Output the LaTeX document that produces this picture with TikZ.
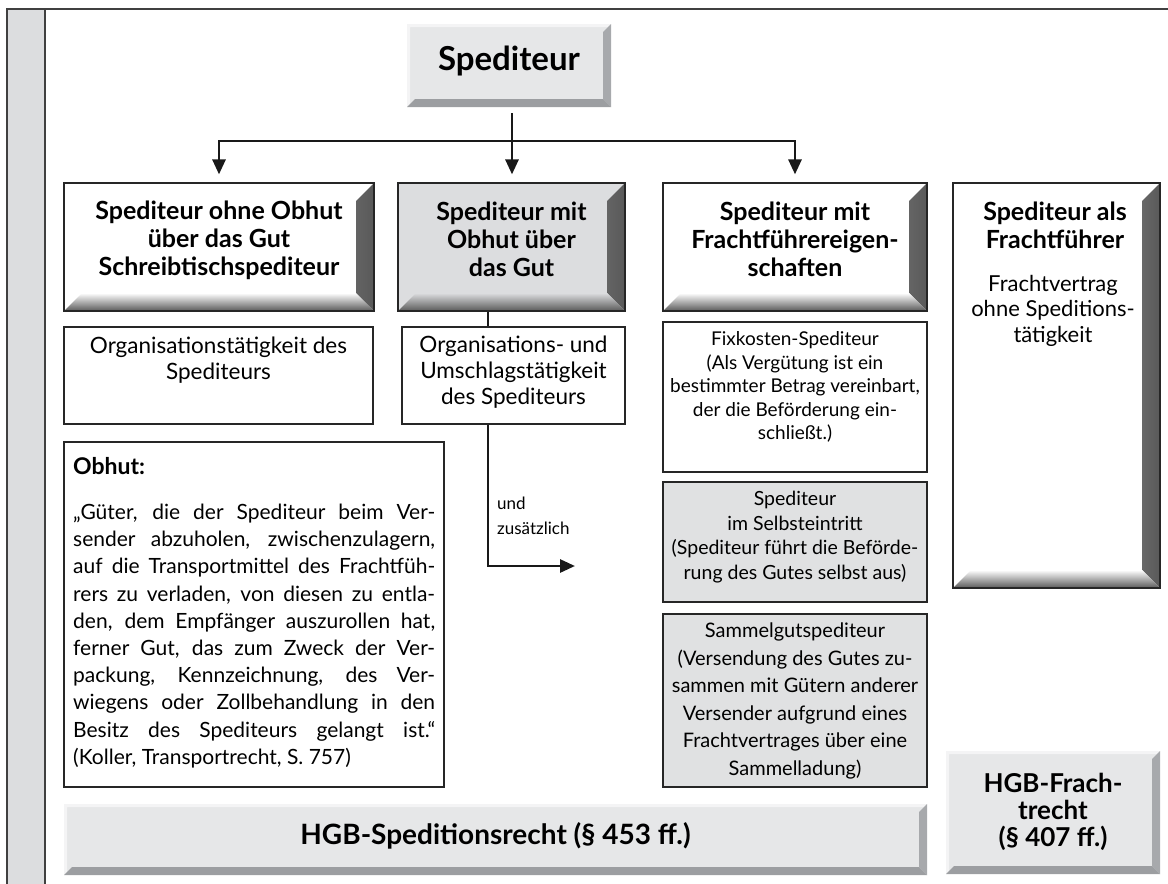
\documentclass[tikz,border=0pt]{standalone}
\usepackage{fontspec}
\setmainfont{Lato}
\usetikzlibrary{arrows.meta}
\definecolor{facegray}{HTML}{E6E7E8}
\definecolor{boxgray}{HTML}{DCDDDF}
\definecolor{notegray}{HTML}{E0E1E2}
\definecolor{bargray}{HTML}{DCDDDF}
\definecolor{bevright}{HTML}{A7A9AC}
\definecolor{bevbottom}{HTML}{9C9EA1}
\newcommand\fTitle{\fontsize{33}{36}\selectfont\bfseries}
\newcommand\fHead{\fontsize{25}{28}\selectfont\bfseries}
\newcommand\fBody{\fontsize{22.5}{26}\selectfont}
\newcommand\fQuote{\fontsize{21}{27.2}\selectfont}
\newcommand\fSmall{\fontsize{19}{23.5}\selectfont}
\newcommand\fNote{\fontsize{17}{25}\selectfont}
\hyphenpenalty=10000
\tikzset{
  raised/.style={draw=black!85, line width=1.2pt, fill=#1, inner sep=0pt,
    path picture={
      \shade[left color=#1, right color=black!65]
        (path picture bounding box.north east)
        -- ([xshift=-18pt,yshift=-18pt]path picture bounding box.north east)
        -- ([xshift=-18pt,yshift=18pt]path picture bounding box.south east)
        -- (path picture bounding box.south east) -- cycle;
      \shade[top color=#1, bottom color=black!65]
        (path picture bounding box.south west)
        -- ([xshift=18pt,yshift=18pt]path picture bounding box.south west)
        -- ([xshift=-18pt,yshift=18pt]path picture bounding box.south east)
        -- (path picture bounding box.south east) -- cycle;
    }},
  raised/.default=white,
  bevel/.style={fill=facegray, inner sep=0pt,
    path picture={
      \fill[white!55!facegray] (path picture bounding box.north west)
        -- (path picture bounding box.north east)
        -- ([xshift=-3pt,yshift=-3pt]path picture bounding box.north east)
        -- ([xshift=3pt,yshift=-3pt]path picture bounding box.north west)
        -- ([xshift=3pt,yshift=3pt]path picture bounding box.south west)
        -- (path picture bounding box.south west) -- cycle;
      \fill[bevright] (path picture bounding box.north east)
        -- ([xshift=-8pt,yshift=-8pt]path picture bounding box.north east)
        -- ([xshift=-8pt,yshift=8pt]path picture bounding box.south east)
        -- (path picture bounding box.south east) -- cycle;
      \fill[bevbottom] (path picture bounding box.south west)
        -- ([xshift=8pt,yshift=8pt]path picture bounding box.south west)
        -- ([xshift=-8pt,yshift=8pt]path picture bounding box.south east)
        -- (path picture bounding box.south east) -- cycle;
    }},
  flat/.style={draw=black!85, line width=1.2pt, fill=#1, inner sep=0pt},
  flat/.default=white,
  head/.style={font=\fHead, align=center, inner sep=0pt},
  body/.style={font=\fBody, align=center, inner sep=0pt},
  link/.style={line width=2.8pt, black!90},
  arr/.style={link, -{Triangle[length=15pt,width=13pt]}}
}

\begin{document}
\begin{tikzpicture}[x=1pt, y=-1pt]
  \useasboundingbox (0,0) rectangle (1168,884);
  % page frame with grey margin bar
  \fill[bargray] (7,9) rectangle (45,884);
  \draw[line width=1.5pt, black!75] (7,884) -- (7,9) -- (1168,9);
  \draw[line width=1.5pt, black!75] (45,9) -- (45,884);

  % top node
  \node[bevel, minimum width=204pt, minimum height=83pt] (sped) at (509,65.5) {};
  \node[font=\fTitle, inner sep=0pt] (spedT) at ([yshift=4pt]sped.center) {Spediteur};

  % first row
  \node[raised, minimum width=310pt, minimum height=128pt] (ohne) at (219,247) {};
  \node[head] (ohneT) at ([yshift=7pt]ohne.center) {Spediteur ohne Obhut\\über das Gut\\Schreibtischspediteur};
  \node[raised=boxgray, minimum width=227pt, minimum height=128pt] (mit) at (511.5,247) {};
  \node[head] (mitT) at ([yshift=8pt]mit.center) {Spediteur mit\\Obhut über\\das Gut};
  \node[raised, minimum width=264pt, minimum height=128pt] (fracht) at (795,247) {};
  \node[head] (frachtT) at ([yshift=8pt]fracht.center) {Spediteur mit\\Frachtführereigen-\\schaften};
  \node[raised, minimum width=207pt, minimum height=405pt] (als) at (1056.5,385.5) {};
  \node[head, anchor=north] (alsT) at (1055,202) {Spediteur als\\Frachtführer};
  \node[body, font=\fontsize{22}{25.5}\selectfont, anchor=north] (alsB) at (1053,275) {Frachtvertrag\\ohne Speditions-\\tätigkeit};

  % arrows from the top node
  \coordinate (fork) at (512,141);
  \draw[link, shorten <=6pt] (sped.south -| fork) -- (fork);
  \draw[arr, shorten >=8pt] (fork) -| (ohne.north);
  \draw[arr, shorten >=8pt] (fork) -- (fork |- mit.north);
  \draw[arr, shorten >=8pt] (fork) -| (fracht.north);

  % second row
  \node[flat, minimum width=309pt, minimum height=97pt] (orgE) at (218.5,375.5) {};
  \node[body, anchor=north] (orgET) at (218.5,337) {Organisationstätigkeit des\\Spediteurs};
  \node[flat, minimum width=223pt, minimum height=97pt] (orgF) at (513.5,375.5) {};
  \node[body] (orgFT) at ([yshift=3pt]orgF.center) {Organisations- und\\Umschlagstätigkeit\\des Spediteurs};
  \node[flat, minimum width=264pt, minimum height=150pt] (fix) at (795,397) {};
  \node[font=\fSmall, align=center, inner sep=0pt] (fixT) at (795,387) {Fixkosten-Spediteur\\(Als Vergütung ist ein\\bestimmter Betrag vereinbart,\\der die Beförderung ein-\\schließt.)};

  % "und zusaetzlich"
  \coordinate (zus) at (488,566);
  \coordinate (zusEnd) at (575,566);
  \draw[link] (mit.south -| zus) -- (orgF.north -| zus);
  \draw[arr] (orgF.south -| zus) -- (zus) -- (zusEnd);
  \node[font=\fNote, align=left, anchor=north west, inner sep=0pt] (zusT) at (497,497) {und\\zusätzlich};

  % grey boxes below
  \node[flat=notegray, minimum width=264pt, minimum height=120pt] (selbst) at (795,542) {};
  \node[font=\fontsize{19.5}{24.5}\selectfont, align=center, inner sep=0pt] (selbstT) at (795,537) {Spediteur\\im Selbsteintritt\\(Spediteur führt die Beförde-\\rung des Gutes selbst aus)};
  \node[flat=notegray, minimum width=264pt, minimum height=173pt] (sammel) at (795,700.5) {};
  \node[font=\fontsize{20}{27.5}\selectfont, align=center, inner sep=0pt] (sammelT) at (795,701) {Sammelgutspediteur\\(Versendung des Gutes zu-\\sammen mit Gütern anderer\\Versender aufgrund eines\\Frachtvertrages über eine\\Sammelladung)};

  % Obhut
  \node[flat, minimum width=380pt, minimum height=345pt] (obhut) at (254,614.5) {};
  \node[inner sep=0pt, text width=362pt, align=justify, anchor=north west] (obhutT) at (73,457) {%
    {\fontsize{23}{28}\selectfont\bfseries Obhut:\par}\vspace{18pt}\fQuote
    „Güter, die der Spediteur beim Ver-\linebreak
    sender abzuholen, zwischenzulagern,\linebreak
    auf die Transportmittel des Frachtfüh-\linebreak
    rers zu verladen, von diesen zu entla-\linebreak
    den, dem Empfänger auszurollen hat,\linebreak
    ferner Gut, das zum Zweck der Ver-\linebreak
    packung, Kennzeichnung, des Ver-\linebreak
    wiegens oder Zollbehandlung in den\linebreak
    Besitz des Spediteurs gelangt ist.“\linebreak
    (Koller, Transportrecht, S.~757)\par};

  % law boxes
  \node[bevel, minimum width=863pt, minimum height=71pt] (hgbS) at (495.5,839.5) {};
  \node[font=\fontsize{28}{30}\selectfont\bfseries, inner sep=0pt] (hgbST) at ([yshift=4pt]hgbS.center) {HGB-Speditionsrecht (§ 453 ff.)};
  \node[bevel, minimum width=214pt, minimum height=123pt] (hgbF) at (1053,812.5) {};
  \node[head, font=\fontsize{26}{27}\selectfont\bfseries] (hgbFT) at ([yshift=1pt]hgbF.center) {HGB-Frach-\\trecht\\(§ 407 ff.)};
\end{tikzpicture}
\end{document}
